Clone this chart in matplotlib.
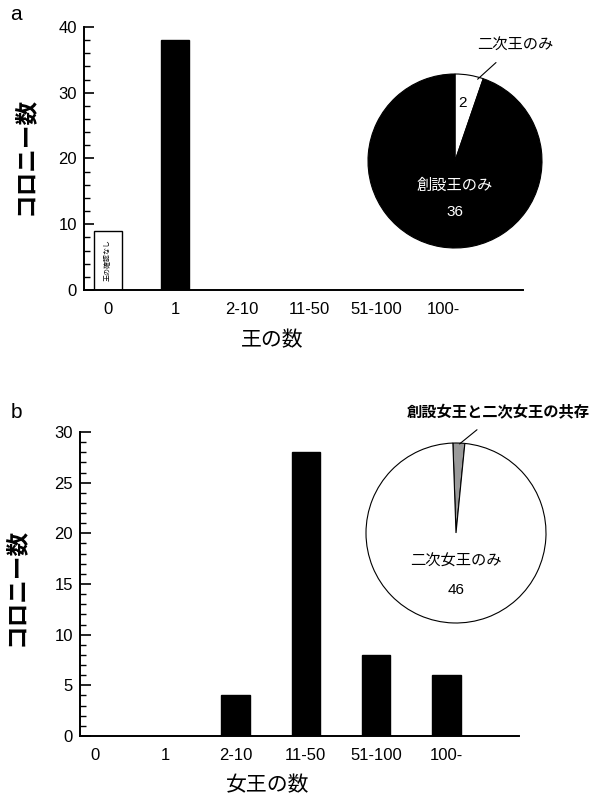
import matplotlib
matplotlib.use("Agg")
import matplotlib.pyplot as plt
import numpy as np
from matplotlib.ticker import MultipleLocator

plt.rcParams['font.family'] = ['Liberation Sans', 'Noto Sans CJK JP']

# ---- data ----
categories = ["0", "1", "2-10", "11-50", "51-100", "100-"]
king_counts = [9, 38, 0, 0, 0, 0]
queen_counts = [0, 0, 4, 28, 8, 6]

king_pie_labels = ["二次王のみ", "創設王のみ"]
king_pie_values = [2, 36]
queen_pie_labels = ["創設女王と二次女王の共存", "二次女王のみ"]
queen_pie_values = [1, 46]

zero_bar_note = "王の確認なし"

W, H = 609, 808
fig = plt.figure(figsize=(W / 100, H / 100), dpi=100)


def frac_box(x0, y0, x1, y1):
    """pixel box (top-left origin) -> figure fraction rect"""
    return [x0 / W, 1 - y1 / H, (x1 - x0) / W, (y1 - y0) / H]


def style_bar_axes(ax, ymax, major, minor, xlim, maj_len):
    for s in ("top", "right"):
        ax.spines[s].set_visible(False)
    for s in ("left", "bottom"):
        ax.spines[s].set_linewidth(1.4)
    ax.set_ylim(0, ymax)
    ax.set_xlim(*xlim)
    ax.yaxis.set_major_locator(MultipleLocator(major))
    ax.yaxis.set_minor_locator(MultipleLocator(minor))
    ax.tick_params(axis="y", which="major", direction="in", length=maj_len,
                   width=1.2, labelsize=12, pad=5)
    ax.tick_params(axis="y", which="minor", direction="in", length=4, width=1.0)
    ax.tick_params(axis="x", length=0, labelsize=12, pad=9)
    x = np.arange(len(categories))
    ax.set_xticks(x)
    ax.set_xticklabels(categories)
    return x


# ---- panel a: number of kings ----
ax1 = fig.add_axes(frac_box(84, 27, 523, 290))
x = style_bar_axes(ax1, 40, 10, 2, (-0.36, 6.19), 7)
colors_a = ["white"] + ["black"] * (len(categories) - 1)
ax1.bar(x, king_counts, width=0.42, color=colors_a, edgecolor="black", linewidth=1.0)
ax1.text(x[0], king_counts[0] / 2, zero_bar_note, rotation=90, ha="center",
         va="center", fontsize=5)
fig.text(272 / W, 1 - 340 / H, "王の数", ha="center", va="center", fontsize=15)
fig.text(25 / W, 1 - 156 / H, "コロニー数", ha="center", va="center",
         rotation=90, fontsize=17, fontweight="bold")
fig.text(16 / W, 1 - 15 / H, "a", ha="center", va="center", fontsize=15)

# inset pie a
pa = fig.add_axes(frac_box(368, 74, 542, 248))
pa.pie(king_pie_values, colors=["white", "black"], startangle=90,
       counterclock=False, wedgeprops=dict(edgecolor="black", linewidth=0.8))
pa.set_xlim(-1, 1)
pa.set_ylim(-1, 1)
pa.text(0.09, 0.67, str(king_pie_values[0]), ha="center", va="center", fontsize=11)
pa.text(0, -0.28, king_pie_labels[1], ha="center", va="center", fontsize=11,
        color="white")
pa.text(0, -0.59, str(king_pie_values[1]), ha="center", va="center", fontsize=11,
        color="white")
pa.annotate(king_pie_labels[0], xy=(0.26, 0.94), xytext=(0.69, 1.33),
            ha="center", va="center", fontsize=11, annotation_clip=False,
            arrowprops=dict(arrowstyle="-", color="black", lw=0.8,
                            shrinkA=8, shrinkB=0))

# ---- panel b: number of queens ----
ax2 = fig.add_axes(frac_box(80, 432, 519, 736))
x = style_bar_axes(ax2, 30, 5, 1, (-0.21, 6.03), 8)
ax2.bar(x, queen_counts, width=0.4, color="black", edgecolor="black")
fig.text(268 / W, 1 - 785 / H, "女王の数", ha="center", va="center", fontsize=15)
fig.text(16 / W, 1 - 587 / H, "コロニー数", ha="center", va="center",
         rotation=90, fontsize=17, fontweight="bold")
fig.text(16 / W, 1 - 413 / H, "b", ha="center", va="center", fontsize=15)

# inset pie b
pb = fig.add_axes(frac_box(366, 443, 546, 623))
pb.pie(queen_pie_values, colors=["#9a9a9a", "white"], startangle=92,
       counterclock=False, wedgeprops=dict(edgecolor="black", linewidth=0.8))
pb.set_xlim(-1, 1)
pb.set_ylim(-1, 1)
pb.text(0, -0.32, queen_pie_labels[1], ha="center", va="center", fontsize=11)
pb.text(0, -0.63, str(queen_pie_values[1]), ha="center", va="center", fontsize=11)
pb.annotate(queen_pie_labels[0], xy=(0.04, 0.99), xytext=(0.47, 1.34),
            ha="center", va="center", fontsize=11, fontweight="bold",
            annotation_clip=False,
            arrowprops=dict(arrowstyle="-", color="black", lw=0.8,
                            shrinkA=8, shrinkB=0))

fig.savefig("out.png", dpi=100, facecolor="white")
